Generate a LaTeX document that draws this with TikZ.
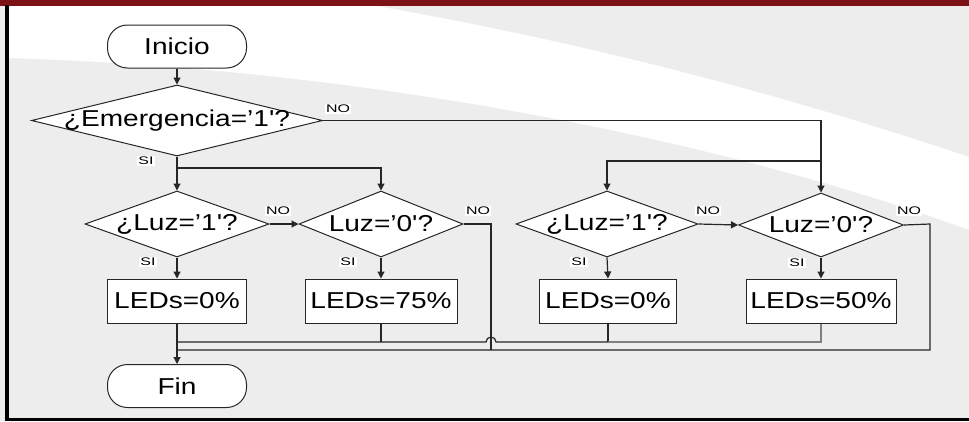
\documentclass[tikz,border=0pt]{standalone}
\usepackage{fontspec}
\setmainfont{Liberation Sans}
\newfontfamily\bigf[FakeStretch=1.22]{Liberation Sans}
\newfontfamily\smallf[FakeStretch=1.45]{Liberation Sans}
\usetikzlibrary{shapes.geometric,arrows.meta}
\definecolor{bggray}{HTML}{EDEDED}
\definecolor{lncol}{HTML}{262626}
\definecolor{barred}{RGB}{125,18,22}
\begin{document}
\begin{tikzpicture}[x=1pt,y=-1pt,
  ln/.style={draw=lncol, line width=1.2pt},
  arr/.style={ln, -{Triangle[length=7pt,width=7pt]}},
  term/.style={rectangle, draw=lncol, line width=1pt, fill=white, rounded corners=20pt,
    minimum width=139pt, minimum height=43pt, inner sep=0pt,
    font=\bigf\fontsize{23}{23}\selectfont},
  dec/.style={diamond, draw=lncol, line width=1pt, fill=white, inner sep=0pt,
    font=\bigf\fontsize{23}{23}\selectfont},
  proc/.style={rectangle, draw=lncol, line width=1pt, fill=white, inner sep=0pt,
    minimum height=44pt, font=\bigf\fontsize{23}{23}\selectfont},
  lab/.style={fill=white, inner sep=1.2pt, font=\smallf\fontsize{11}{11}\selectfont}
]
% background
\useasboundingbox (0,0) rectangle (969,421);
\fill[bggray] (0,0) rectangle (969,421);
\fill[white] (8,5) -- (371,5) .. controls (600,45) and (800,100) .. (969,157)
  -- (969,230) .. controls (750,150) and (400,70) .. (8,58) -- cycle;
\fill[barred] (0,0) rectangle (969,5.5);
\fill[black] (5,5) rectangle (8.5,421);
\fill[black] (5,417.5) rectangle (969,421);

% nodes
\node[term] (ini) at (177,46.5) {Inicio};
\node[dec, minimum width=291pt, minimum height=71pt] (emg) at (177,120.5) {\makebox[0pt]{¿Emergencia=’1'?}};
\node[dec, minimum width=184pt, minimum height=66pt] (l1a) at (177,224) {\makebox[0pt]{¿Luz=’1'?}};
\node[dec, minimum width=164pt, minimum height=66pt] (l0a) at (381,224) {\makebox[0pt]{Luz=’0'?}};
\node[dec, minimum width=182pt, minimum height=66pt] (l1b) at (607,224) {\makebox[0pt]{¿Luz=’1'?}};
\node[dec, minimum width=165pt, minimum height=64pt] (l0b) at (821,225) {\makebox[0pt]{Luz=’0'?}};
\node[proc, minimum width=139pt] (b0a) at (177,301) {LEDs=0\%};
\node[proc, minimum width=152pt] (b75) at (381,301) {LEDs=75\%};
\node[proc, minimum width=137pt] (b0b) at (608,301) {LEDs=0\%};
\node[proc, minimum width=150pt] (b50) at (821,301) {LEDs=50\%};
\node[term] (fin) at (177,386) {Fin};

\coordinate (j1) at (177,168);
\coordinate (j2) at (821,161);
\coordinate (m1) at (177,342);
\coordinate (m2) at (177,350);

% connectors
\draw[arr] (ini) -- (emg.north);
\draw[arr] (emg.south) -- (l1a.north);
\draw[arr] (j1) -| (l0a.north);
\draw[arr] (emg.east) -| (l0b.north);
\draw[arr] (j2) -| (l1b.north);
\draw[arr] (l1a.east) -- (l0a.west);
\draw[arr] (l1b.east) -- (l0b.west);
\draw[arr] (l1a.south) -- (b0a.north);
\draw[arr] (l0a.south) -- (b75.north);
\draw[arr] (l1b.south) -- (b0b.north);
\draw[arr] (l0b.south) -- (b50.north);
\draw[ln] (l0a.east) -- (491,224) -- (491,350);
\draw[ln] (l0b.east) -- (930,224) -- (930,350) -- (m2);
\draw[ln] (b75.south) -- (381,342);
\draw[ln] (b0b.south) -- (608,342);
\draw[ln, draw=gray] (b50.south) -- (821,342) -- (608,342);
\draw[ln] (608,342) -- (496,342) arc[start angle=0, end angle=180, radius=5pt] -- (m1);
\draw[arr] (b0a.south) -- (fin.north);

% labels
\node[lab] at (338,109) {NO};
\node[lab] at (146,161) {SI};
\node[lab] at (278,211) {NO};
\node[lab] at (478,211) {NO};
\node[lab] at (708,211) {NO};
\node[lab] at (909,211) {NO};
\node[lab] at (148,262) {SI};
\node[lab] at (348,262) {SI};
\node[lab] at (579,262) {SI};
\node[lab] at (797,263) {SI};
\end{tikzpicture}
\end{document}
